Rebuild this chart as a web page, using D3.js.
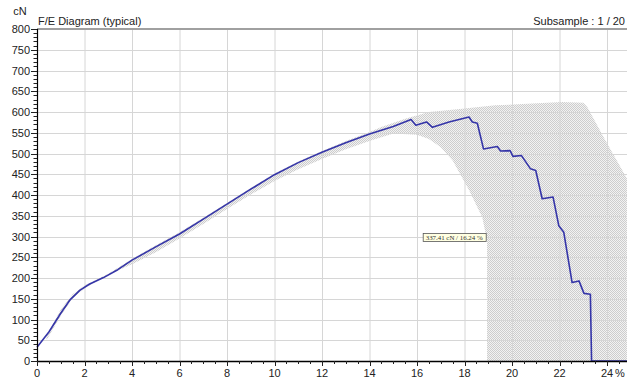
<!DOCTYPE html>
<html>
<head>
<meta charset="utf-8">
<script src="https://cdn.jsdelivr.net/npm/d3@7"></script>
<style>
  html, body { margin: 0; padding: 0; background: #fff; overflow: hidden; }
  svg { display: block; font-family: "Liberation Sans", Arial, sans-serif; }
</style>
</head>
<body>
<svg id="chart" width="627" height="380"></svg>
<script>
// Typical force / elongation curve (strain %, force cN)
const curveStrain = [0, 0.5, 1.0, 1.4, 1.8, 2.2, 2.8, 3.4, 4.0, 5, 6, 7, 8, 9, 10, 11, 12, 13, 14, 15, 15.75, 15.95, 16.4, 16.65, 17.35, 18.19, 18.33, 18.54, 18.8, 19.38, 19.52, 19.92, 20.04, 20.4, 20.78, 21.0, 21.27, 21.73, 21.97, 22.18, 22.53, 22.82, 23.03, 23.3, 23.35, 24.84];
const curveForce  = [33, 70, 115, 148, 170, 185, 201, 220, 243, 275, 306, 342, 378, 414, 449, 478, 503, 526, 547, 565, 582, 568, 576, 563, 576, 588, 576, 573, 511, 517, 506, 507, 493, 495, 463, 459, 391, 395, 326, 310, 189, 193, 163, 161, 0, 0];

// Spread of all subsamples: upper and lower bounds of the band
const upperStrain = [0.4, 1.0, 1.5, 2.0, 2.5, 3.0, 4.0, 5, 6, 7, 8, 9, 10, 11, 12, 13, 14, 14.5, 15.5, 16.5, 17.9, 19.3, 22.1, 23.0, 23.17, 23.94, 24.84];
const upperForce  = [60, 124, 161, 182, 196, 210, 246, 279, 310, 345, 381, 417, 452, 481, 506, 530, 552, 564, 584, 600, 608, 616, 624, 622, 612, 531, 440];
const lowerStrain = [24.84, 18.95, 18.95, 18.75, 18.2, 17.5, 17.0, 16.5, 16.0, 15.0, 14, 13, 12, 11, 10, 9, 8, 7, 6, 5, 4, 3, 2.5, 2.0, 1.5, 1.0, 0.4];
const lowerForce  = [0, 0, 290, 346, 411, 483, 515, 535, 545, 548, 530, 510, 487, 462, 434, 401, 366, 330, 295, 262, 233, 208, 192, 175, 151, 109, 50];

// Axis ticks
const xTicks = [0, 2, 4, 6, 8, 10, 12, 14, 16, 18, 20, 22, 24];
const yTicks = [0, 50, 100, 150, 200, 250, 300, 350, 400, 450, 500, 550, 600, 650, 700, 750, 800];

// Cursor read-out
const cursorForce = 337.41;
const cursorStrain = 16.24;

const svg = d3.select("#chart");
const W = 627, H = 380;
const x = d3.scaleLinear().domain([0, 24]).range([37, 607]);
const y = d3.scaleLinear().domain([0, 800]).range([361, 29]);
const xMax = x.invert(W);

// checkered fill for the band
const defs = svg.append("defs");
const pat = defs.append("pattern").attr("id", "checker")
  .attr("patternUnits", "userSpaceOnUse").attr("width", 2).attr("height", 2);
pat.append("rect").attr("x", 0).attr("y", 0).attr("width", 2).attr("height", 2).attr("fill", "#f2f2f2");
pat.append("rect").attr("x", 0).attr("y", 0).attr("width", 1).attr("height", 1).attr("fill", "#cdcdcd");
pat.append("rect").attr("x", 1).attr("y", 1).attr("width", 1).attr("height", 1).attr("fill", "#cdcdcd");

const bandPts = upperStrain.map((s, i) => [s, upperForce[i]])
  .concat(lowerStrain.map((s, i) => [s, lowerForce[i]]));
const line = d3.line().x(d => x(d[0])).y(d => y(d[1]));
svg.append("path")
  .attr("d", line(bandPts) + "Z")
  .attr("fill", "url(#checker)")
  .attr("stroke", "none");

// grid
const grid = svg.append("g").attr("stroke", "#d6d6d6").attr("stroke-width", 1);
xTicks.forEach(t => {
  if (t === 0) return;
  grid.append("line").attr("x1", x(t) + 0.5).attr("x2", x(t) + 0.5)
    .attr("y1", y(800)).attr("y2", y(0));
});
yTicks.forEach(t => {
  if (t === 0 || t === 800) return;
  grid.append("line").attr("x1", x(0)).attr("x2", W)
    .attr("y1", Math.round(y(t)) + 0.5).attr("y2", Math.round(y(t)) + 0.5);
});

// top frame line
svg.append("line").attr("x1", x(0)).attr("x2", W)
  .attr("y1", y(800)).attr("y2", y(800))
  .attr("stroke", "#a0a0a0").attr("stroke-width", 2);

// main curve
const pts = curveStrain.map((s, i) => [s, curveForce[i]]);
svg.append("path")
  .attr("d", line(pts))
  .attr("fill", "none")
  .attr("stroke", "#3535a8")
  .attr("stroke-width", 1.6)
  .attr("stroke-linejoin", "round");

// y axis
const yAxis = svg.append("g").attr("transform", `translate(${x(0)},0)`);
yAxis.append("line").attr("x1", 0.5).attr("x2", 0.5).attr("y1", y(800)).attr("y2", y(0))
  .attr("stroke", "#000").attr("stroke-width", 1.2);
d3.range(0, 801, 10).forEach(v => {
  const major = v % 50 === 0;
  yAxis.append("line")
    .attr("x1", major ? -6 : -3.5).attr("x2", 0)
    .attr("y1", Math.round(y(v)) + 0.5).attr("y2", Math.round(y(v)) + 0.5)
    .attr("stroke", "#222").attr("stroke-width", 1);
});
yTicks.forEach(v => {
  yAxis.append("text").attr("x", -7).attr("y", y(v) + 4)
    .attr("text-anchor", "end").attr("font-size", 11).attr("fill", "#222")
    .text(v);
});

// x axis
const xAxis = svg.append("g").attr("transform", `translate(0,${y(0)})`);
xAxis.append("line").attr("x1", x(0)).attr("x2", W).attr("y1", 0.5).attr("y2", 0.5)
  .attr("stroke", "#000").attr("stroke-width", 1.4);
d3.range(0, xMax, 0.5).forEach(v => {
  const major = Math.abs(v % 2) < 1e-9;
  xAxis.append("line")
    .attr("x1", Math.round(x(v)) + 0.5).attr("x2", Math.round(x(v)) + 0.5)
    .attr("y1", 0).attr("y2", major ? 5 : 3)
    .attr("stroke", "#222").attr("stroke-width", 1);
});
xTicks.forEach(v => {
  xAxis.append("text").attr("x", x(v)).attr("y", 16)
    .attr("text-anchor", "middle").attr("font-size", 11).attr("fill", "#222")
    .text(v);
});

// unit labels and titles
svg.append("text").attr("x", 620).attr("y", y(0) + 16).attr("text-anchor", "middle")
  .attr("font-size", 11).attr("fill", "#222").text("%");
svg.append("text").attr("x", 20).attr("y", 15).attr("text-anchor", "middle")
  .attr("font-size", 11).attr("fill", "#222").text("cN");
svg.append("text").attr("x", 38).attr("y", 25)
  .attr("font-size", 11).attr("fill", "#222").text("F/E Diagram (typical)");
svg.append("text").attr("x", 625).attr("y", 25).attr("text-anchor", "end")
  .attr("font-size", 11).attr("fill", "#222").text("Subsample : 1 / 20");

// cursor read-out box
const bx = x(cursorStrain), by = y(cursorForce) + 12;
const tip = svg.append("g").attr("transform", `translate(${bx},${by})`);
tip.append("rect").attr("x", 0.5).attr("y", 0.5).attr("width", 63).attr("height", 8)
  .attr("fill", "#ffffe1").attr("stroke", "#555").attr("stroke-width", 0.8);
tip.append("text").attr("x", 3).attr("y", 6.6)
  .attr("font-size", 6.2).attr("font-family", "'Liberation Serif', serif").attr("fill", "#333")
  .attr("textLength", 57).attr("lengthAdjust", "spacingAndGlyphs")
  .text(`${cursorForce} cN /  ${cursorStrain} %`);
</script>
</body>
</html>
